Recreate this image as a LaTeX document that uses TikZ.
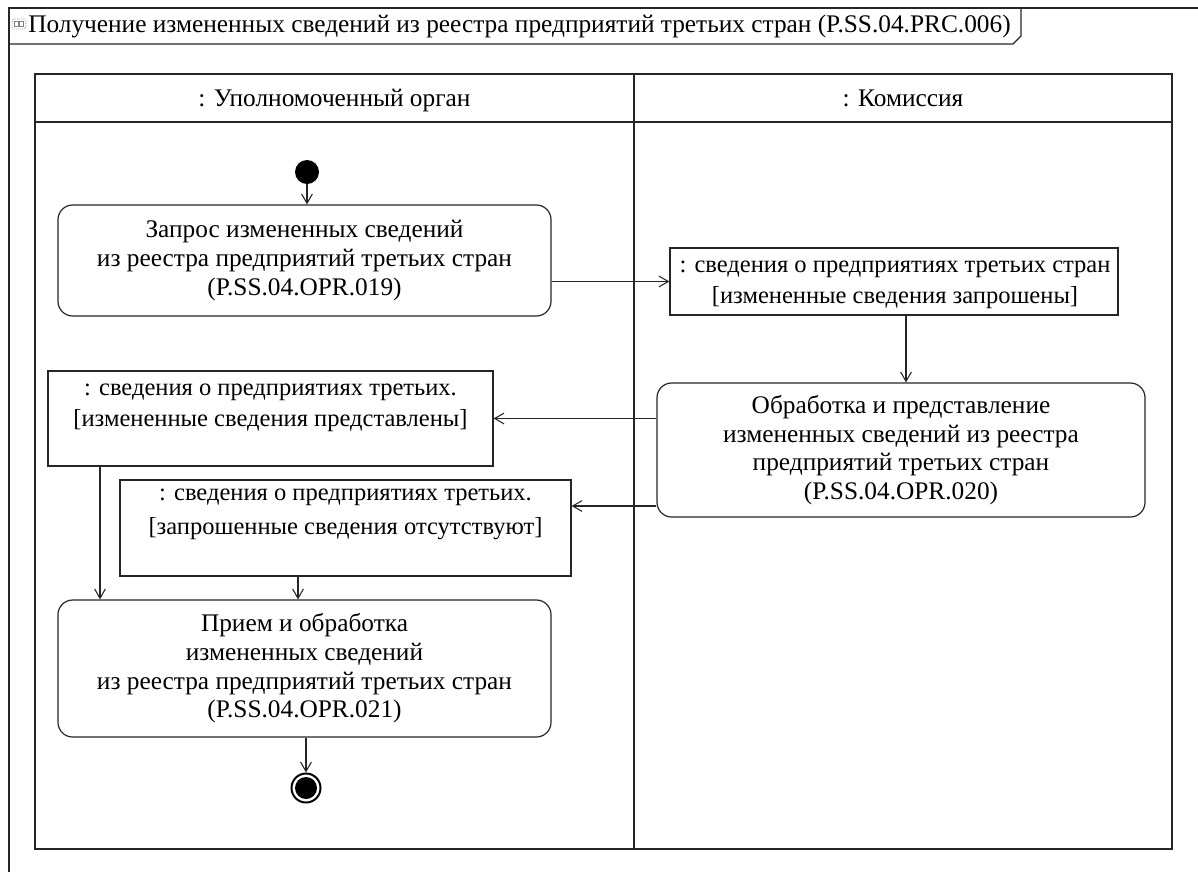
\documentclass[tikz,border=0pt]{standalone}
\usepackage{fontspec}
\setmainfont{Liberation Serif}
\usetikzlibrary{arrows.meta,calc}
\newcommand\fsz{\fontsize{19}{21.5}\selectfont}
\newcommand\osz{\fontsize{18.4}{21.5}\selectfont}
\begin{document}
\begin{tikzpicture}[x=0.75pt,y=-0.75pt,
  line/.style={draw=black!85, line width=0.9pt},
  act/.style={line, rectangle, rounded corners=11pt, align=center, font=\fsz, inner sep=0pt},
  obj/.style={line, rectangle, inner sep=0pt},
  txt/.style={align=center, font=\fsz, inner sep=0pt},
  otxt/.style={align=center, font=\osz, inner sep=0pt},
  flow/.style={draw=black!85, line width=0.8pt, -{Straight Barb[length=7pt,width=8pt,line width=0.8pt]}},
]
\useasboundingbox (0,0) rectangle (1198,871);
\fill[white] (0,0) rectangle (1198,871);
% outer frame and title tab
\draw[line] (9,880) -- (9,8) -- (1210,8);
\draw[line] (9,44) -- (1013,44) -- (1021,36) -- (1021,8);
\draw[black!50, line width=0.5pt, rounded corners=2pt, densely dotted] (12,19) rectangle (26,29);
\draw[black!50, line width=0.4pt] (14.5,21.5) rectangle (18.5,26.5);
\draw[black!50, line width=0.4pt] (19.5,21.5) rectangle (23.5,26.5);
\node[anchor=west, font=\fsz, inner sep=0pt] (title) at (28,26) {Получение измененных сведений из реестра предприятий третьих стран (P.SS.04.PRC.006)};
% swimlanes
\draw[line] (35,74) rectangle (1172,849);
\draw[line] (634,74) -- (634,849);
\draw[line] (35,122) -- (1172,122);
\node[txt, anchor=base] (h1) at (334.5,106) {: Уполномоченный орган};
\node[txt, anchor=base] (h2) at (903,106) {: Комиссия};
% nodes
\node[circle, fill=black, minimum size=18pt, inner sep=0pt] (start) at (307,172) {};
\node[act, minimum width=493*0.75pt, minimum height=111*0.75pt] (a1) at (304.5,260.5)
  {Запрос измененных сведений\\из реестра предприятий третьих стран\\(P.SS.04.OPR.019)};
\node[obj, minimum width=448*0.75pt, minimum height=67*0.75pt] (o1) at (894,281.5) {};
\node[otxt] (o1t) at (895,285) {: сведения о предприятиях третьих стран\\[2pt]{[}измененные сведения запрошены]};
\node[act, minimum width=488*0.75pt, minimum height=134*0.75pt] (a2) at (901,450)
  {Обработка и представление\\измененных сведений из реестра\\предприятий третьих стран\\(P.SS.04.OPR.020)};
\node[obj, minimum width=445*0.75pt, minimum height=95*0.75pt] (o2) at (270.5,418.5) {};
\node[otxt] (o2t) at (270.5,407.5) {: сведения о предприятиях третьих.\\[2pt]{[}измененные сведения представлены]};
\node[obj, minimum width=451*0.75pt, minimum height=96*0.75pt] (o3) at (345.5,528) {};
\node[otxt] (o3t) at (345.5,514) {: сведения о предприятиях третьих.\\[4pt]{[}запрошенные сведения отсутствуют]};
\node[act, minimum width=493*0.75pt, minimum height=137*0.75pt] (a3) at (304.5,668.5)
  {Прием и обработка\\измененных сведений\\из реестра предприятий третьих стран\\(P.SS.04.OPR.021)};
\node[circle, draw=black, line width=1.5pt, minimum size=21.75pt, inner sep=0pt] (end) at (306,788) {};
\node[circle, fill=black, minimum size=16.5pt, inner sep=0pt] (endin) at (end) {};
% helper coordinates
\coordinate (c1) at (906,0);
\coordinate (c2) at (0,506);
\coordinate (c3) at (100,0);
\coordinate (c4) at (298,0);
% flows
\draw[flow] (start) -- (a1.north -| start);
\draw[flow] (a1.east |- o1.west) -- (o1.west);
\draw[flow] (o1.south -| c1) -- (a2.north -| c1);
\draw[flow] (a2.west |- o2.east) -- (o2.east);
\draw[flow] (a2.west |- c2) -- (o3.east |- c2);
\draw[flow] (o2.south -| c3) -- (a3.north -| c3);
\draw[flow] (o3.south -| c4) -- (a3.north -| c4);
\draw[flow] (a3.south -| end) -- (end.north);
\end{tikzpicture}
\end{document}
